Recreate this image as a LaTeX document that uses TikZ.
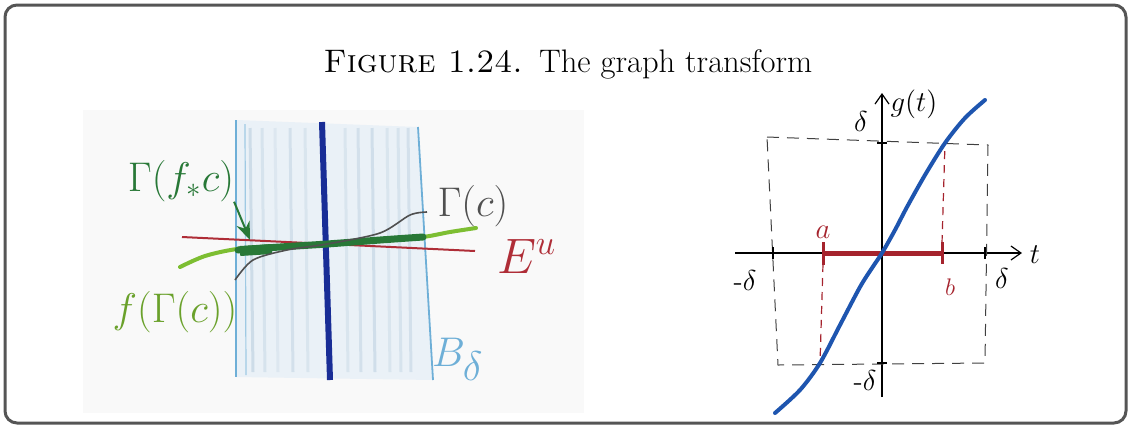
\documentclass[tikz,border=0pt]{standalone}
\usepackage{amsmath}
\usetikzlibrary{arrows.meta}
\definecolor{framegray}{RGB}{85,85,85}
\definecolor{paper}{RGB}{249,249,249}
\definecolor{bandblue}{RGB}{234,241,247}
\definecolor{lblue}{RGB}{110,175,215}
\definecolor{streak}{RGB}{170,195,215}
\definecolor{dblue}{RGB}{25,45,150}
\definecolor{ered}{RGB}{175,45,55}
\definecolor{lgreen}{RGB}{125,190,50}
\definecolor{dgreen}{RGB}{40,120,55}
\definecolor{ggray}{RGB}{80,80,80}
\definecolor{gblue}{RGB}{30,85,175}
\definecolor{ared}{RGB}{165,35,45}
\tikzset{
  lbl/.style={inner sep=0pt, outer sep=0pt},
  axisline/.style={black, line width=0.6pt},
  boxdash/.style={black!75, line width=0.5pt, dash pattern=on 6pt off 4pt},
  tickmark/.style={black, line width=0.6pt},
  redtick/.style={ared, line width=1.5pt},
  reddash/.style={ared, line width=0.6pt, dash pattern=on 4pt off 3pt},
}
\begin{document}
\begin{tikzpicture}[x=0.5pt,y=-0.5pt]
\useasboundingbox (0,0) rectangle (1130,425);
\draw[framegray, line width=1.5pt, rounded corners=6pt] (5,5) rectangle (1126,423);
% title
\node[lbl, anchor=base] (title) at (568,72) {\fontsize{16.3}{19}\selectfont\textsc{Figure 1.24.}\enspace The graph transform};

% ---------- left sketch ----------
\fill[paper] (83,110) rectangle (584,413);
\fill[bandblue] (237,120) -- (418,127) -- (433,380) -- (236,377) -- cycle;
\foreach \xx/\op in {250/0.45,262/0.3,275/0.2,290/0.35,305/0.25,345/0.25,358/0.35,372/0.4,387/0.25,398/0.3,408/0.35}
  \draw[streak, opacity=\op, line width=1.5pt] (\xx,128) -- (\xx+3,372);
\draw[lblue, line width=0.9pt] (236,120) -- (236,377);
\draw[lblue, line width=0.6pt, opacity=0.6] (245,124) -- (246,375);
\draw[lblue, line width=0.9pt] (418,127) -- (433,380);
\draw[dblue, line width=3pt] (322,122) -- (330,380);
\draw[ered, line width=1pt] (182,237) -- (475,251);
\draw[lgreen, line width=2pt, line cap=round] plot[smooth] coordinates {(180,267) (205,256) (237,249) (280,246) (327,244) (380,241) (423,237) (450,232) (476,228)};
\draw[dgreen, line width=3.5pt, line cap=round] plot[smooth] coordinates {(238,250) (280,247) (327,244) (380,240) (423,237)};
\draw[dgreen, line width=5pt] (240,251) -- (272,249);
\draw[ggray, line width=0.8pt] plot[smooth] coordinates {(235,280) (253,260) (287,250) (327,244) (380,233) (410,215) (427,212)};

\node[lbl, text=dgreen] (gfc) at (181,181) {\fontsize{21}{21}\selectfont$\Gamma(f_{*}c)$};
\coordinate (gfcend) at (250,240);
\draw[dgreen, line width=1pt, -{Stealth[length=9pt,width=7pt]}] (gfc.south east) -- (gfcend);
\node[lbl, text=ggray] (gc) at (473,206) {\fontsize{20}{20}\selectfont$\Gamma(c)$};
\node[lbl, text=ered, anchor=base west] (eu) at (497,273) {\fontsize{23}{23}\selectfont$E^{u}$};
\node[lbl, text=lgreen!85!black, anchor=center] (fgc) at (175,312) {\fontsize{21}{21}\selectfont$f(\Gamma(c))$};
\node[lbl, text=lblue, anchor=base west] (bd) at (432,366) {\fontsize{22}{22}\selectfont$B_{\textstyle\delta}$};

% ---------- right graph ----------
\coordinate (O) at (882,253);
\coordinate (xl) at (735,253);
\coordinate (xr) at (1022,253);
\coordinate (yb) at (882,397);
\coordinate (yt) at (882,93);
\draw[axisline, -{Straight Barb[length=5pt,width=7pt]}] (xl) -- (xr);
\draw[black, line width=1pt] (xl) -- (773,253);
\draw[axisline, -{Straight Barb[length=5pt,width=7pt]}] (yb) -- (yt);
\draw[boxdash] (767,137) -- (988,145) -- (985,363) -- (778,365) -- cycle;
\draw[tickmark] (773,247) -- (773,259);
\draw[tickmark] (985,247) -- (985,259);
\draw[tickmark] (877,143) -- (887,143);
\draw[tickmark] (877,363) -- (887,363);
\draw[reddash] (823,264) -- (820,363);
\draw[reddash] (942,243) -- (945,143);
\draw[ared, line width=2.5pt] (823,253) -- (942,253);
\draw[redtick] (823,242) -- (823,265);
\draw[redtick] (942,242) -- (942,264);
\draw[gblue, line width=2pt, line cap=round] plot[smooth] coordinates {(775,413) (800,390) (820,363) (840,325) (860,287) (872,268) (882,253) (895,230) (907,207) (925,175) (945,143) (965,118) (985,100)};

\node[lbl] (dtop) at (861,121) {\fontsize{14}{14}\selectfont$\delta$};
\node[lbl] (gt) at (914,104) {\fontsize{14}{14}\selectfont$g(t)$};
\node[lbl] (dleft) at (745,280) {\fontsize{14}{14}\selectfont$\text{-}\delta$};
\node[lbl] (dright) at (1002,278) {\fontsize{14}{14}\selectfont$\delta$};
\node[lbl] (dbot) at (865,380) {\fontsize{14}{14}\selectfont$\text{-}\delta$};
\node[lbl, text=ared] (la) at (823,232) {\fontsize{15}{15}\selectfont$a$};
\node[lbl, text=ared] (lb) at (950,287) {\fontsize{13}{13}\selectfont$b$};
\node[lbl] (lt) at (1035,255) {\fontsize{14}{14}\selectfont$t$};
\end{tikzpicture}
\end{document}
